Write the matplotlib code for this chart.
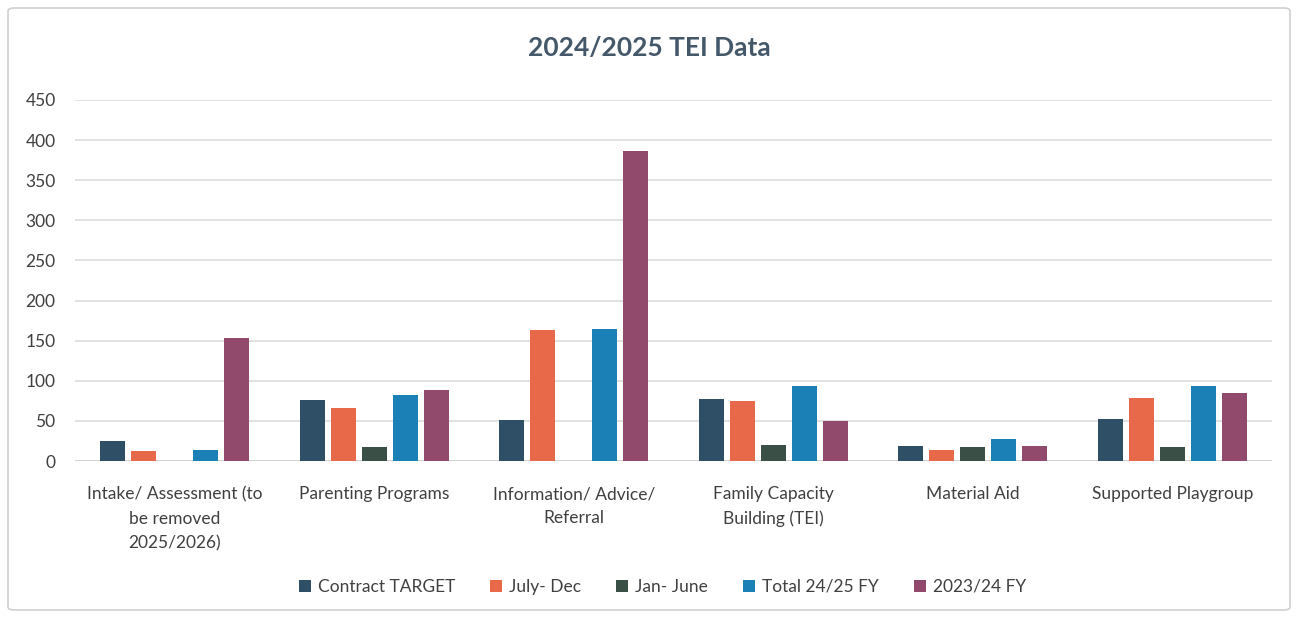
import numpy as np
import matplotlib.pyplot as plt
from matplotlib.patches import FancyBboxPatch

categories = ["Intake/ Assessment (to\nbe removed\n2025/2026)", "Parenting Programs",
              "Information/ Advice/\nReferral", "Family Capacity\nBuilding (TEI)",
              "Material Aid", "Supported Playgroup"]
series_names = ["Contract TARGET", "July- Dec", "Jan- June", "Total 24/25 FY", "2023/24 FY"]
contract = [25, 76, 51, 77, 19, 52]
july_dec = [12, 66, 163, 75, 14, 78]
jan_june = [0, 17, 0, 20, 17, 18]
total = [14, 82, 165, 94, 27, 93]
fy2324 = [153, 89, 386, 50, 19, 85]
colors = ["#2F4F66", "#E8694A", "#3A4F45", "#1A80B6", "#924A6C"]

plt.rcParams['font.family'] = ['Lato', 'DejaVu Sans']

fig = plt.figure(figsize=(12.99, 6.18), dpi=100)
fig.patches.append(FancyBboxPatch((8/1299, 8/618), 1282/1299, 602/618, boxstyle="round,pad=0,rounding_size=0.005",
                                  transform=fig.transFigure, fill=False, edgecolor="#D0D0D0", linewidth=1.2))
ax = fig.add_axes([75/1299, 1-461/618, 1197/1299, 361/618])

x = np.arange(len(categories))
step = 0.155
w = 0.125
for i, (name, vals) in enumerate(zip(series_names, [contract, july_dec, jan_june, total, fy2324])):
  ax.bar(x + (i-2)*step, vals, w, color=colors[i], label=name, zorder=3)

ax.set_xlim(-0.5, len(categories)-0.5)
ax.set_ylim(0, 450)
ax.set_yticks(np.arange(0, 451, 50))
ax.yaxis.grid(True, color="#DCDCDC", linewidth=1.2, zorder=0)
for s in ax.spines.values():
  s.set_visible(False)
ax.axhline(0, color="#D0D0D0", linewidth=1.2, zorder=2)
ax.tick_params(axis='both', length=0, labelsize=12.5, labelcolor="#404040")
ax.tick_params(axis='y', pad=14)
ax.set_xticks(x)
ax.set_xticklabels(categories, linespacing=1.65)
ax.tick_params(axis='x', pad=18)

fig.text(0.5, 1-48/618, "2024/2025 TEI Data", ha='center', va='center', fontsize=19,
         color="#44586A", fontweight='bold')
fig.legend(loc='center', bbox_to_anchor=(0.51, 1-587/618), ncol=5, frameon=False, fontsize=12.5,
           handlelength=0.7, handleheight=0.7, handletextpad=0.4, columnspacing=2.0, labelcolor="#404040")

fig.savefig("out.png", dpi=100)
